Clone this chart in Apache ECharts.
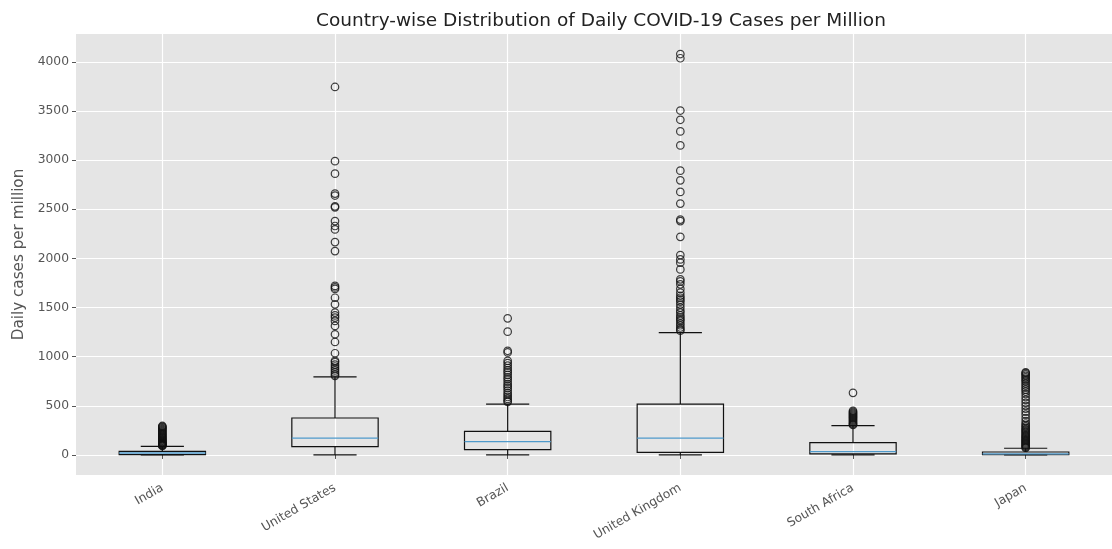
<!DOCTYPE html>
<html>
<head>
<meta charset="utf-8">
<script src="https://cdn.jsdelivr.net/npm/echarts@6/dist/echarts.min.js"></script>
<style>html,body{margin:0;padding:0;background:#fff}#c{width:1112px;height:549px}</style>
</head>
<body>
<div id="c"></div>
<script>
const countries = ['India', 'United States', 'Brazil', 'United Kingdom', 'South Africa', 'Japan'];
// [lower whisker, Q1, median, Q3, upper whisker]
const boxIndia = [0, 3, 20, 37, 88];
const boxUS = [0, 85, 172, 376, 795];
const boxBrazil = [0, 54, 135, 240, 518];
const boxUK = [0, 27, 172, 518, 1245];
const boxSA = [0, 10, 34, 125, 298];
const boxJapan = [0, 2, 10, 30, 68];

const outIndia = [92, 96, 100, 105, 110, 115, 120, 126, 132, 138, 145, 152, 160, 168, 176, 185, 194, 203, 212, 222, 232, 242, 252, 262, 272, 280, 288, 295];
const outUS = [3745, 2990, 2863, 2660, 2640, 2530, 2520, 2380, 2330, 2295, 2166, 2075, 1720, 1705, 1690, 1600, 1533, 1449, 1420, 1398, 1364, 1313, 1228, 1150, 1035, 958, 945, 920, 900, 880, 860, 840, 820, 805];
const outBrazil = [1390, 1255, 1060, 1043, 958, 935, 910, 885, 860, 840, 815, 790, 770, 745, 720, 700, 680, 655, 630, 610, 590, 570, 551, 540];
const outUK = [4080, 4037, 3505, 3411, 3293, 3150, 2893, 2795, 2677, 2558, 2395, 2380, 2220, 2034, 1990, 1956, 1888, 1787, 1766, 1736, 1690, 1652, 1620, 1600, 1580, 1560, 1530, 1500, 1470, 1449, 1420, 1400, 1380, 1365, 1340, 1320, 1297, 1280, 1265];
const outSA = [632, 450, 440, 430, 420, 410, 400, 390, 380, 370, 360, 350, 340, 330, 320, 312, 305];
const outJapan = [72, 80, 90, 100, 110, 120, 130, 140, 150, 160, 170, 180, 190, 200, 212, 225, 238, 250, 262, 275, 290, 305, 320, 345, 375, 410, 440, 470, 500, 530, 560, 590, 620, 645, 665, 685, 705, 725, 745, 760, 775, 790, 805, 820, 832, 840];

const yTicks = [0, 500, 1000, 1500, 2000, 2500, 3000, 3500, 4000];
const yMin = -204, yMax = 4284;

const boxes = [boxIndia, boxUS, boxBrazil, boxUK, boxSA, boxJapan];
const outs = [outIndia, outUS, outBrazil, outUK, outSA, outJapan];

const boxData = boxes.map((b, i) => [i].concat(b));
const outData = [];
outs.forEach((arr, i) => arr.forEach(v => outData.push([i, v])));

function renderBox(params, api) {
  const i = api.value(0);
  const lo = api.coord([i, api.value(1)]);
  const q1 = api.coord([i, api.value(2)]);
  const md = api.coord([i, api.value(3)]);
  const q3 = api.coord([i, api.value(4)]);
  const hi = api.coord([i, api.value(5)]);
  const band = api.size([1, 0])[0];
  const hw = band * 0.25, cw = band * 0.125;
  const x = lo[0];
  const blk = {stroke: '#111', lineWidth: 1.2, fill: null};
  return {
    type: 'group',
    children: [
      {type: 'rect', shape: {x: x - hw, y: q3[1], width: hw * 2, height: q1[1] - q3[1]}, style: blk},
      {type: 'line', shape: {x1: x, y1: q3[1], x2: x, y2: hi[1]}, style: blk},
      {type: 'line', shape: {x1: x, y1: q1[1], x2: x, y2: lo[1]}, style: blk},
      {type: 'line', shape: {x1: x - cw, y1: hi[1], x2: x + cw, y2: hi[1]}, style: blk},
      {type: 'line', shape: {x1: x - cw, y1: lo[1], x2: x + cw, y2: lo[1]}, style: blk},
      {type: 'line', shape: {x1: x - hw, y1: md[1], x2: x + hw, y2: md[1]}, style: {stroke: '#4f9acb', lineWidth: 1.3}}
    ]
  };
}

const chart = echarts.init(document.getElementById('c'), null, {renderer: 'canvas'});
chart.setOption({
  animation: false,
  backgroundColor: '#fff',
  title: {
    text: 'Country-wise Distribution of Daily COVID-19 Cases per Million',
    left: 596, top: 7, textAlign: 'center',
    textStyle: {fontFamily: 'DejaVu Sans', fontSize: 18.5, fontWeight: 'normal', color: '#222'}
  },
  grid: {left: 76, right: -4, top: 34, bottom: 74, show: true, backgroundColor: '#E5E5E5', borderWidth: 0},
  xAxis: {
    type: 'category', data: countries, boundaryGap: true,
    axisLine: {show: false},
    axisTick: {show: true, alignWithLabel: true, length: 4, lineStyle: {color: '#555'}},
    splitLine: {show: true, alignWithLabel: true, lineStyle: {color: '#fff', width: 1.2}},
    axisLabel: {rotate: 30, margin: 12, fontFamily: 'DejaVu Sans', fontSize: 12.3, color: '#555'}
  },
  yAxis: {
    type: 'value', min: yMin, max: yMax,
    name: 'Daily cases per million', nameLocation: 'middle', nameGap: 49,
    nameTextStyle: {fontFamily: 'DejaVu Sans', fontSize: 15.2, color: '#555'},
    axisLine: {show: false},
    axisTick: {show: true, length: 4, lineStyle: {color: '#555'}, customValues: yTicks},
    axisLabel: {fontFamily: 'DejaVu Sans', fontSize: 12.3, color: '#555', margin: 7, customValues: yTicks,
                formatter: v => String(v)},
    splitLine: {show: true, lineStyle: {color: '#fff', width: 1.2}, customValues: yTicks}
  },
  series: [
    {type: 'custom', renderItem: renderBox, data: boxData, encode: {x: 0, y: [1, 2, 3, 4, 5]}, z: 2},
    {type: 'scatter', data: outData, symbol: 'circle', symbolSize: 7.5,
     itemStyle: {color: 'rgba(0,0,0,0)', borderColor: '#111', borderWidth: 1.2}, z: 3}
  ]
});
</script>
</body>
</html>
